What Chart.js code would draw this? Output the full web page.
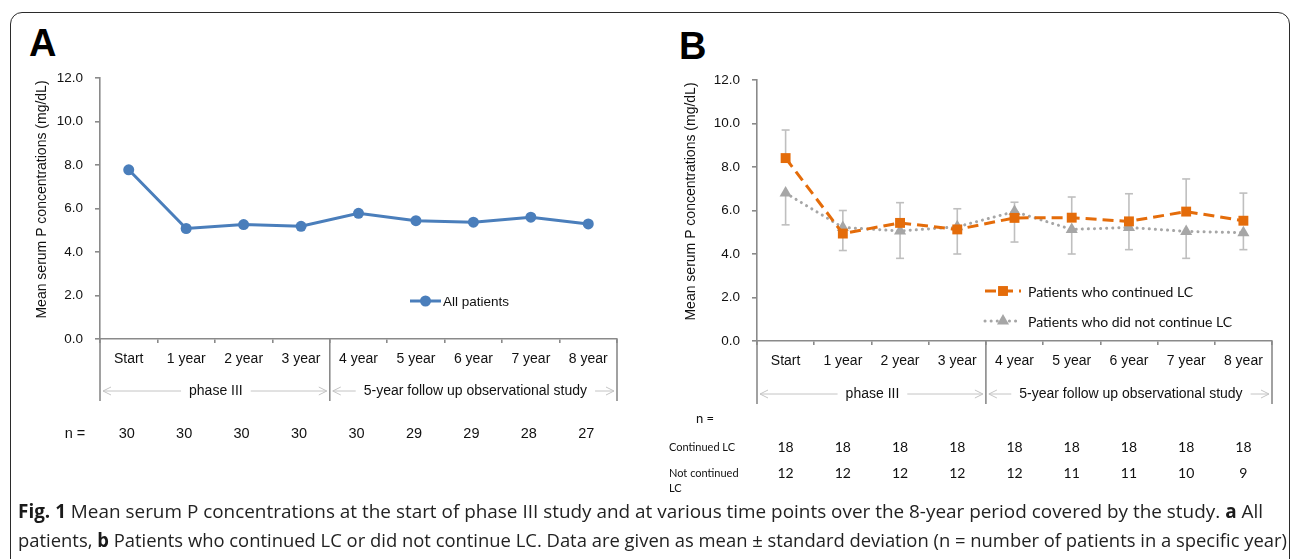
<!DOCTYPE html>
<html>
<head>
<meta charset="utf-8">
<script src="https://cdn.jsdelivr.net/npm/chart.js@4.4.1/dist/chart.umd.min.js"></script>
<style>
  html, body { margin:0; padding:0; background:#fff; }
  body { width:1292px; height:559px; position:relative; overflow:hidden; }
  #frame { position:absolute; left:10px; top:12px; width:1280px; height:620px; border:1.5px solid #2b2b2b; border-radius:12px; box-sizing:border-box; }
  canvas { position:absolute; top:0; }
  #cA { left:0; }
  #cB { left:646px; }
  .panel { position:absolute; font-family:"Liberation Sans", Arial, sans-serif; font-weight:bold; font-size:38px; color:#000; }
  .cap { position:absolute; left:18px; font-family:"Open Sans", "Noto Sans", sans-serif; font-size:18.8px; line-height:29px; color:#222; white-space:nowrap; transform-origin:0 0; display:inline-block; }
  .cap b { color:#1a1a1a; }
</style>
</head>
<body>
<div id="frame"></div>
<div class="panel" style="left:29px; top:22px;">A</div>
<div class="panel" style="left:679px; top:25px;">B</div>
<canvas id="cA" width="646" height="500"></canvas>
<canvas id="cB" width="646" height="500"></canvas>
<span class="cap" id="cap1" data-w="1245" style="top:497px;"><b>Fig. 1</b> Mean serum P concentrations at the start of phase III study and at various time points over the 8-year period covered by the study. <b>a</b> All</span>
<span class="cap" id="cap2" data-w="1269" style="top:526px;">patients, <b>b</b> Patients who continued LC or did not continue LC. Data are given as mean ± standard deviation (n = number of patients in a specific year)</span>
<script>
// ---------------- DATA ----------------
const categories = ['Start', '1 year', '2 year', '3 year', '4 year', '5 year', '6 year', '7 year', '8 year'];
const allPatients = [7.78, 5.08, 5.26, 5.18, 5.78, 5.44, 5.37, 5.60, 5.29];
const continuedLC = [8.41, 4.94, 5.43, 5.13, 5.66, 5.67, 5.50, 5.95, 5.53];
const notContinuedLC = [6.80, 5.22, 5.06, 5.25, 5.95, 5.13, 5.22, 5.04, 4.98];
const continuedUpper = [9.70, 6.00, 6.36, 6.08, 6.38, 6.62, 6.77, 7.45, 6.80];
const notContinuedLower = [5.34, 4.16, 3.80, 4.00, 4.55, 4.00, 4.20, 3.80, 4.20];
const nAll = [30, 30, 30, 30, 30, 29, 29, 28, 27];
const nContinued = [18, 18, 18, 18, 18, 18, 18, 18, 18];
const nNotContinued = [12, 12, 12, 12, 12, 11, 11, 10, 9];
const groupLabels = ['phase III', '5-year follow up observational study'];
const groupStart = [0, 4];
const groupEnd = [3, 8];
const yMin = 0, yMax = 12, yStep = 2;
const yTitle = 'Mean serum P concentrations (mg/dL)';
// --------------------------------------

// fit caption lines to the reference widths
document.querySelectorAll('.cap').forEach(el => {
  const w = el.getBoundingClientRect().width;
  el.style.transform = 'scaleX(' + (Number(el.dataset.w) / w) + ')';
});

const AX = '#8a8a8a';
const SANS = '"Liberation Sans", Arial, sans-serif';
const CAL = 'Lato, "Open Sans", sans-serif';

function line(ctx, x0, y0, x1, y1) { ctx.beginPath(); ctx.moveTo(x0, y0); ctx.lineTo(x1, y1); ctx.stroke(); }

function makeAnnot(cfg) {
  return {
    id: 'annot',
    beforeDatasetsDraw(chart) {
      const ctx = chart.ctx, y = chart.scales.y, x = chart.scales.x;
      chart.data.datasets.forEach((ds) => {
        if (!ds.errBound) return;
        ctx.save();
        ctx.strokeStyle = '#bfbfbf'; ctx.lineWidth = 1.6;
        ds.data.forEach((v, i) => {
          const px = x.getPixelForValue(i);
          const p0 = y.getPixelForValue(v), p1 = y.getPixelForValue(ds.errBound[i]);
          line(ctx, px, p0, px, p1);
          line(ctx, px - 4, p1, px + 4, p1);
        });
        ctx.restore();
      });
    },
    afterDraw(chart) {
      const ctx = chart.ctx, x = chart.scales.x;
      const { left, right, top, bottom } = chart.chartArea;
      const band = x.getPixelForValue(1) - x.getPixelForValue(0);
      ctx.save();
      // y-axis title
      ctx.save();
      ctx.translate(cfg.titleX, (top + bottom) / 2 + cfg.titleDy);
      ctx.rotate(-Math.PI / 2);
      ctx.font = '14px ' + SANS; ctx.fillStyle = '#111'; ctx.textAlign = 'center'; ctx.textBaseline = 'middle';
      ctx.fillText(yTitle, 0, 0);
      ctx.restore();
      // divider lines of the multi-level category axis
      ctx.strokeStyle = AX; ctx.lineWidth = 1.6;
      const divs = [left, right];
      for (let g = 1; g < groupStart.length; g++) divs.push(x.getPixelForValue(groupStart[g]) - band / 2);
      divs.forEach(d => line(ctx, d, bottom, d, bottom + cfg.divLen));
      // group labels with arrows
      ctx.font = '14px ' + SANS; ctx.fillStyle = '#111'; ctx.textAlign = 'center'; ctx.textBaseline = 'middle';
      for (let g = 0; g < groupLabels.length; g++) {
        const x0 = x.getPixelForValue(groupStart[g]) - band / 2 + 3;
        const x1 = x.getPixelForValue(groupEnd[g]) + band / 2 - 3;
        const cx = (x0 + x1) / 2 + (g === 0 ? 1 : 2);
        const gy = bottom + cfg.groupY;
        ctx.fillText(groupLabels[g], cx, gy);
        const w = ctx.measureText(groupLabels[g]).width;
        ctx.strokeStyle = '#c4c4c4'; ctx.lineWidth = 1;
        line(ctx, x0, gy, cx - w / 2 - 8, gy);
        line(ctx, cx + w / 2 + 8, gy, x1, gy);
        line(ctx, x0, gy, x0 + 8, gy - 4); line(ctx, x0, gy, x0 + 8, gy + 4);
        line(ctx, x1, gy, x1 - 8, gy - 4); line(ctx, x1, gy, x1 - 8, gy + 4);
      }
      // n rows
      cfg.rows.forEach(r => {
        ctx.fillStyle = '#111'; ctx.textBaseline = 'middle';
        ctx.font = r.labelFont; ctx.textAlign = r.labelAlign;
        r.label.forEach((t, k) => ctx.fillText(t, r.labelX, r.y + k * 15));
        ctx.font = r.valFont; ctx.textAlign = 'center';
        r.values.forEach((v, i) => ctx.fillText(String(v), x.getPixelForValue(i) + r.dx, r.y));
      });
      // legend
      cfg.legend.forEach((lg, k) => {
        const ds = chart.data.datasets[k];
        ctx.save();
        ctx.strokeStyle = ds.borderColor; ctx.lineWidth = ds.borderWidth;
        ctx.setLineDash(ds.borderDash || []); ctx.lineCap = ds.borderCapStyle || 'butt';
        line(ctx, lg.x, lg.y, lg.x + lg.len, lg.y);
        ctx.restore();
        ctx.fillStyle = ds.pointBackgroundColor;
        Chart.helpers.drawPoint(ctx, { pointStyle: ds.pointStyle, radius: ds.pointRadius, borderWidth: 0 }, lg.x + lg.len / 2, lg.y);
        ctx.fillStyle = '#111'; ctx.font = lg.font; ctx.textAlign = 'left'; ctx.textBaseline = 'middle';
        ctx.fillText(ds.label, lg.x + lg.len + lg.gap, lg.y + 1);
      });
      ctx.restore();
    }
  };
}

function baseOptions(p) {
  return {
    responsive: false, animation: false, devicePixelRatio: 1,
    layout: { padding: p.padding },
    plugins: { legend: { display: false }, tooltip: { enabled: false } },
    scales: {
      x: {
        type: 'category', offset: true,
        afterFit: s => { s.height = 30; },
        border: { color: AX, width: 1.6 },
        grid: { offset: true, drawOnChartArea: false, drawTicks: true, tickLength: 4, color: AX, lineWidth: 1.6 },
        ticks: { color: '#111', font: { family: SANS, size: 14 }, padding: 8, maxRotation: 0, autoSkip: false }
      },
      y: {
        min: yMin, max: yMax,
        afterFit: s => { s.width = p.yWidth; },
        border: { color: AX, width: 1.6 },
        grid: { drawOnChartArea: false, drawTicks: true, tickLength: 5, color: AX, lineWidth: 1.6 },
        ticks: { stepSize: yStep, color: '#111', font: { family: SANS, size: 13.5 }, padding: 12, callback: v => Number(v).toFixed(1) },
        title: { display: false }
      }
    }
  };
}

// Panel A
new Chart(document.getElementById('cA'), {
  type: 'line',
  data: {
    labels: categories,
    datasets: [{
      label: 'All patients', data: allPatients,
      borderColor: '#4a7ebb', borderWidth: 3, pointStyle: 'circle', pointRadius: 5.5,
      pointBackgroundColor: '#4a7ebb', pointBorderWidth: 0, tension: 0
    }]
  },
  options: baseOptions({ padding: { left: 20, right: 29, top: 78, bottom: 131 }, yWidth: 80 }),
  plugins: [makeAnnot({
    titleX: 42, titleDy: -9,
    divLen: 62, groupY: 52,
    rows: [{ label: ['n ='], labelX: 75, labelAlign: 'center', labelFont: '14.5px ' + SANS, valFont: '14.5px ' + SANS, values: nAll, y: 434, dx: -2 }],
    legend: [{ x: 410, y: 301, len: 31, gap: 2, font: '13.5px ' + SANS }]
  })]
});

// Panel B
new Chart(document.getElementById('cB'), {
  type: 'line',
  data: {
    labels: categories,
    datasets: [{
      label: 'Patients who continued LC', data: continuedLC, errBound: continuedUpper,
      borderColor: '#e46c0a', borderWidth: 3, borderDash: [11, 6], pointStyle: 'rect', pointRadius: 7,
      pointBackgroundColor: '#e46c0a', pointBorderWidth: 0, tension: 0
    }, {
      label: 'Patients who did not continue LC', data: notContinuedLC, errBound: notContinuedLower,
      borderColor: '#a6a6a6', borderWidth: 3, borderDash: [0.1, 6], borderCapStyle: 'round', pointStyle: 'triangle', pointRadius: 7,
      pointBackgroundColor: '#a6a6a6', pointBorderWidth: 0, tension: 0
    }]
  },
  options: baseOptions({ padding: { left: 25, right: 20, top: 80, bottom: 129 }, yWidth: 86 }),
  plugins: [makeAnnot({
    titleX: 45, titleDy: -9,
    divLen: 63, groupY: 53,
    rows: [
      { label: ['n ='], labelX: 59, labelAlign: 'center', labelFont: '13px ' + CAL, valFont: '14px ' + CAL, values: [], y: 419, dx: 0 },
      { label: ['Continued LC'], labelX: 23, labelAlign: 'left', labelFont: '11px ' + CAL, valFont: '14px ' + CAL, values: nContinued, y: 447, dx: 0 },
      { label: ['Not continued', 'LC'], labelX: 23, labelAlign: 'left', labelFont: '11px ' + CAL, valFont: '14px ' + CAL, values: nNotContinued, y: 473, dx: 0 }
    ],
    legend: [
      { x: 339, y: 291, len: 36, gap: 7, font: '14px ' + CAL },
      { x: 339, y: 321, len: 36, gap: 7, font: '14px ' + CAL }
    ]
  })]
});
</script>
</body>
</html>
